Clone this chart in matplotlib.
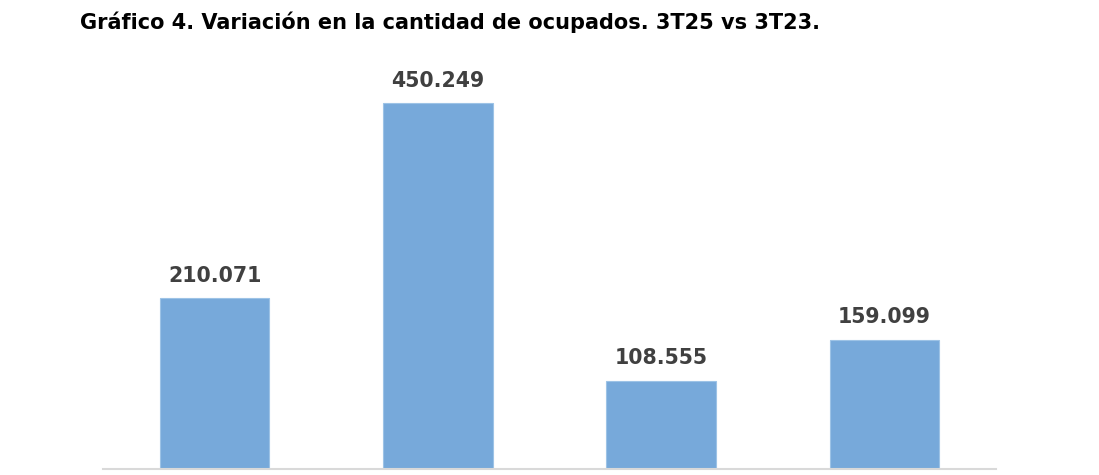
import matplotlib.pyplot as plt

# Datos del gráfico
categorias = ["A", "B", "C", "D"]
valores = [210071, 450249, 108555, 159099]
etiquetas = ["210.071", "450.249", "108.555", "159.099"]

fig = plt.figure(figsize=(10.99, 4.75), dpi=100)
ax = fig.add_axes([0.0937, 0.0126, 0.8126, 0.855])

x = range(len(categorias))
bars = ax.bar(x, valores, width=0.49, color="#77A9DA", edgecolor="#9DC3E6", linewidth=0.8)

ax.set_xlim(-0.5, len(categorias) - 0.5)
ax.set_ylim(0, 500000)

for b, lab in zip(bars, etiquetas):
    ax.annotate(lab, (b.get_x() + b.get_width() / 2, b.get_height()),
                xytext=(0, 9), textcoords="offset points",
                ha="center", va="bottom", fontsize=14.8, fontweight="bold",
                color="#404040")

for s in ["top", "right", "left"]:
    ax.spines[s].set_visible(False)
ax.spines["bottom"].set_color("#D9D9D9")
ax.spines["bottom"].set_linewidth(1.5)
ax.set_xticks([])
ax.set_yticks([])

fig.text(80 / 1099, 1 - 22 / 475, "Gráfico 4. Variación en la cantidad de ocupados. 3T25 vs 3T23.",
         fontsize=15, fontweight="bold", color="black", va="center", ha="left")

plt.savefig("out.png", dpi=100)
